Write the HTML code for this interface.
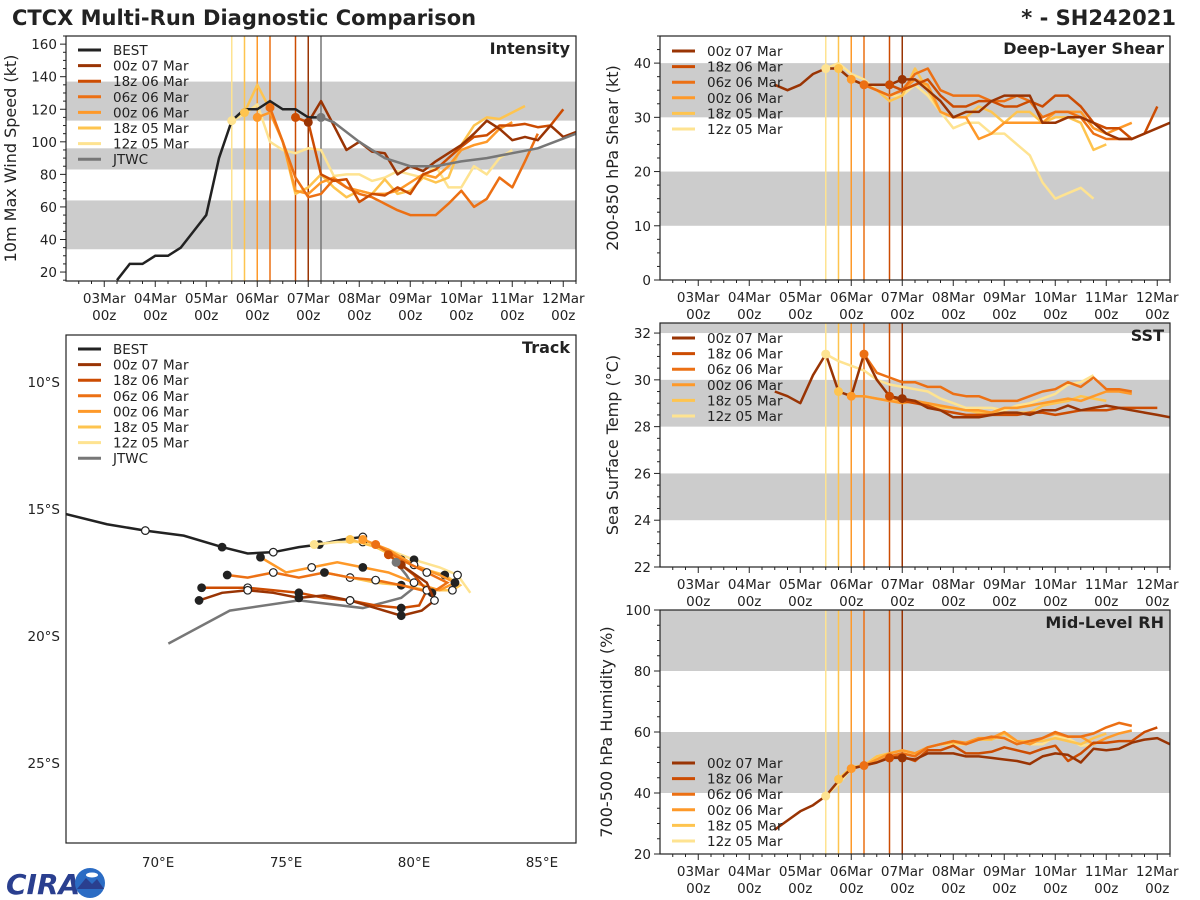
<!DOCTYPE html>
<html><head><meta charset="utf-8"><style>
html,body{margin:0;padding:0;background:#fff;}
svg{display:block;font-family:"DejaVu Sans","Liberation Sans",sans-serif;}
</style></head><body>
<svg id="fig" width="1200" height="900" viewBox="0 0 1200 900">
<rect width="1200" height="900" fill="#fff"/>
<text x="12" y="25" font-size="21" font-weight="bold" fill="#222">CTCX Multi-Run Diagnostic Comparison</text>
<text x="1176" y="25" font-size="21" font-weight="bold" fill="#222" text-anchor="end">* - SH242021</text>
<g>
<text x="6" y="894" font-size="28" font-weight="bold" fill="#2a3f8f" font-style="italic">CIRA</text>
<circle cx="90" cy="883" r="15" fill="#2b6cc4"/>
<path d="M77 889 L86 878 L92 884 L97 879 L104 889 Z" fill="#2a3f8f"/>
<ellipse cx="92" cy="875" rx="6" ry="2.5" fill="#fff"/>
</g>
</svg>
<script>
const runNames=['00z 07 Mar','18z 06 Mar','06z 06 Mar','00z 06 Mar','18z 05 Mar','12z 05 Mar'];
const runColors=['#993404','#cc4c02','#ec7014','#fe9929','#fec44f','#fee391'];
const runInit=[4.0,3.75,3.25,3.0,2.75,2.5];
const xTickLabels=['03Mar','04Mar','05Mar','06Mar','07Mar','08Mar','09Mar','10Mar','11Mar','12Mar'];
// intensity
const bestStart=0.25;
const bestVmax=[15,25,25,30,30,35,45,55,90,113,120,120,125,120,120,115,115];
const jtwcTimes=[4.25,4.5,5.0,5.5,6.0,6.5,7.0,7.5,8.0,8.5,9.0,9.25];
const jtwcVmax=[115,112,100,90,85,85,88,90,93,96,102,105];
const int00z07=[112,125,110,95,100,94,93,80,85,82,88,93,98,105,113,108,101,103,101,110,103,106];
const int18z06=[115,112,80,76,77,63,68,67,72,68,80,83,90,97,103,104,110,110,111,109,110,120];
const int06z06=[121,100,78,66,68,77,72,68,66,62,58,55,55,55,62,70,60,65,78,72,88,105];
const int00z06=[115,118,100,70,68,75,78,72,70,68,68,70,75,80,78,85,95,98,100,108,112];
const int18z05=[118,135,120,100,68,72,80,72,66,70,68,77,68,70,78,75,78,98,110,115,114,118,122];
const int12z05=[113,117,123,100,95,93,96,95,79,80,80,76,78,82,80,78,85,72,72,85,80,90,95];
// shear
const shr00z07Start=1.5;
const shr00z07=[36,35,36,38,39,39,37,36,36,36,37,37,35,33,30,31,31,33,34,34,34,29,29,30,30,29,27,26,26,27,28,29];
const shr18z06=[36,35,36,37,34,32,32,33,33,32,32,33,32,34,34,32,29,28,28,26,27,32];
const shr06z06=[36,35,34,35,38,39,35,34,34,34,33,33,34,33,30,31,31,30,27,26,26,26];
const shr00z06=[37,36,35,34,35,37,36,31,30,30,26,27,29,29,29,29,31,31,31,28,27,28,29];
const shr18z05=[39,37,36,35,33,34,39,35,31,30,30,32,31,29,31,31,29,30,30,29,24,25];
const shr12z05=[39,40,38,37,35,34,34,36,34,31,28,29,29,27,27,25,23,18,15,16,17,15];
// sst
const sst00z07=[29.5,29.3,29.0,30.2,31.1,29.5,29.3,31.1,30.0,29.3,29.2,29.1,28.8,28.7,28.4,28.4,28.4,28.5,28.6,28.6,28.5,28.7,28.7,28.9,28.7,28.8,28.9,28.8,28.7,28.6,28.5,28.4];
const sst18z06=[29.3,29.1,29.0,28.9,28.7,28.6,28.5,28.5,28.5,28.5,28.5,28.6,28.6,28.5,28.6,28.7,28.7,28.7,28.8,28.8,28.8,28.8];
const sst06z06=[31.1,30.3,30.1,29.9,29.9,29.7,29.7,29.4,29.3,29.3,29.1,29.1,29.1,29.3,29.5,29.6,29.9,29.7,30.1,29.6,29.6,29.5];
const sst00z06=[29.3,29.3,29.2,29.1,29.0,29.1,29.0,28.9,28.8,28.7,28.7,28.6,28.8,28.8,28.9,29.0,29.1,29.2,29.1,29.3,29.5,29.5,29.4];
const sst18z05=[29.5,29.3,29.3,29.2,29.1,29.1,29.0,29.0,28.8,28.8,28.7,28.6,28.6,28.6,28.6,28.6,28.9,29.0,29.1,29.3,29.2,29.1];
const sst12z05=[31.1,30.8,30.6,30.4,30.0,29.8,29.7,29.6,29.5,29.2,29.0,28.8,28.8,28.8,28.7,28.9,29.0,29.2,29.4,29.8,29.9,30.2];
// rh
const rh00z07=[28,31,34,36,39,44,48,49,50,51.5,51.5,51,53,53,53,52,52,51.5,51,50.5,49.5,52,53,52.5,50,54.5,54,54.5,56.5,57.5,58,56];
const rh18z06=[51.5,52,50.5,54,54,55.5,53,53,53.5,55,54,53,54.5,55.5,50.5,53,56.5,56.5,57,57,60,61.5];
const rh06z06=[49,50,52,53,52,55,56,57,56,57.5,58.5,58,56,57,58,60,58.5,58.5,59.5,61.5,63,62];
const rh00z06=[48,49,51,53,54,53,55,56,57,56.5,58,58,60,57,56,58,59.5,58.5,58.5,56,58,59.5,60.5];
const rh18z05=[44.5,48.5,49,52,53,54,53,55,56,56.5,56,57.5,57.5,59.5,57,57,57,58,57,56,58,59.5];
const rh12z05=[39,43,48,49,52,53,54,52,55,56,56,56,57.5,58,58,57,56,56,58.5,58,55.5,56];
// track (lon, lat)
const bestLon=[66.4,68.0,69.5,71.0,72.5,73.5,74.5,75.5,76.3,77.2,78.0];
const bestLat=[-15.2,-15.6,-15.85,-16.05,-16.5,-16.75,-16.7,-16.5,-16.4,-16.2,-16.1];
const trk00z07Lon=[79.5,80.5,80.8,80.3,79.5,78.5,77.5,76.5,75.5,74.5,73.5,72.5,71.6];
const trk00z07Lat=[-17.2,-17.9,-18.6,-19.0,-19.2,-18.9,-18.6,-18.4,-18.5,-18.3,-18.2,-18.3,-18.6];
const trk18z06Lon=[79.0,80.0,80.5,80.2,79.5,78.5,77.5,76.5,75.5,74.5,73.5,72.5,71.7];
const trk18z06Lat=[-16.8,-17.6,-18.2,-18.8,-18.9,-18.8,-18.6,-18.5,-18.3,-18.2,-18.1,-18.1,-18.1];
const trk06z06Lon=[78.5,79.5,80.5,81.3,80.7,79.5,78.5,77.5,76.5,75.5,74.5,73.5,72.7];
const trk06z06Lat=[-16.4,-17.0,-17.5,-17.9,-18.3,-18.0,-17.8,-17.7,-17.5,-17.7,-17.5,-17.7,-17.6];
const trk00z06Lon=[78.0,79.0,80.0,81.0,81.6,81.0,80.0,79.0,78.0,77.0,76.0,75.0,74.0];
const trk00z06Lat=[-16.2,-16.6,-17.2,-17.6,-17.9,-18.2,-17.9,-17.5,-17.3,-17.1,-17.3,-17.5,-16.9];
const trk18z05Lon=[77.5,78.5,79.5,80.5,81.2,81.8,81.5,80.5,79.5,78.5,77.5,76.5];
const trk18z05Lat=[-16.2,-16.5,-17.0,-17.4,-17.6,-18.0,-18.2,-18.2,-18.0,-17.9,-17.7,-17.5];
const trk12z05Lon=[76.1,77.0,78.0,79.0,80.0,81.0,81.7,82.2];
const trk12z05Lat=[-16.4,-16.3,-16.3,-16.6,-17.0,-17.3,-17.6,-18.3];
const jtwcLon=[79.3,79.7,80.0,79.5,78.0,75.5,72.8,70.4];
const jtwcLat=[-17.1,-17.6,-18.1,-18.5,-18.9,-18.6,-19.0,-20.3];

const NS='http://www.w3.org/2000/svg';
const svg=document.getElementById('fig');
function mk(tag,attrs,parent){const e=document.createElementNS(NS,tag);for(const k in attrs)e.setAttribute(k,attrs[k]);(parent||svg).appendChild(e);return e;}
function txt(s,attrs,parent){const e=mk('text',attrs,parent);e.textContent=s;return e;}
const T0=-0.75,T1=9.25;

function panel(o){
  const g=mk('g',{});
  
  
  const X=t=>o.x0+(t-T0)/(T1-T0)*(o.x1-o.x0);
  const Y=v=>o.y1-(v-o.ymin)/(o.ymax-o.ymin)*(o.y1-o.y0);
  const cp='clip-'+o.name;
  const cl=mk('clipPath',{id:cp},g);mk('rect',{x:o.x0,y:o.y0,width:o.x1-o.x0,height:o.y1-o.y0},cl);
  const inner=mk('g',{'clip-path':'url(#'+cp+')'},g);
  o.bands.forEach(b=>{const r=mk('rect',{x:o.x0,y:Y(Math.min(b[1],o.ymax)),width:o.x1-o.x0,height:Y(b[0])-Y(Math.min(b[1],o.ymax)),fill:'#cccccc'},inner);
    });
  runInit.forEach((t,i)=>{const l=mk('line',{x1:X(t),x2:X(t),y1:o.y0,y2:o.y1,stroke:runColors[i],'stroke-width':1.5},inner);
    });
  if(o.jtwcLine){const l=mk('line',{x1:X(4.25),x2:X(4.25),y1:o.y0,y2:o.y1,stroke:'#777','stroke-width':1.5},inner);
    }
  o.series.slice().reverse().forEach(s=>{
    const pts=s.vals.map((v,k)=>X(s.start+k*0.25).toFixed(1)+','+Y(v).toFixed(1)).join(' ');
    const p=mk('polyline',{points:pts,fill:'none',stroke:s.color,'stroke-width':2.5,'stroke-linejoin':'round'},inner);
    
  });
  if(o.extra)o.extra(inner,X,Y);
  o.series.slice().reverse().forEach(s=>{
    const k=Math.round((s.dotAt-s.start)/0.25);
    const c=mk('circle',{cx:X(s.dotAt),cy:Y(s.vals[k]),r:4.5,fill:s.color},inner);
    
  });
  const f=mk('rect',{x:o.x0,y:o.y0,width:o.x1-o.x0,height:o.y1-o.y0,fill:'none',stroke:'#222','stroke-width':1.2},g);
  
  for(let t=-0.5;t<=T1+0.001;t+=0.25){const maj=Math.abs(t-Math.round(t))<0.01;
    mk('line',{x1:X(t),x2:X(t),y1:o.y1,y2:o.y1+(maj?6:3),stroke:'#222','stroke-width':1},g);}
  xTickLabels.forEach((s,d)=>{
    const a=txt(s,{x:X(d),y:o.y1+22,'font-size':13.5,'text-anchor':'middle',fill:'#222'},g);
    
    const b=txt('00z',{x:X(d),y:o.y1+39,'font-size':13.5,'text-anchor':'middle',fill:'#222'},g);
    
  });
  const n0=Math.ceil(o.ymin/o.minor-1e-6),n1=Math.floor(o.ymax/o.minor+1e-6);
  for(let n=n0;n<=n1;n++){const rv=Math.round(n*o.minor*100)/100;
    const maj=Math.abs(rv/o.major-Math.round(rv/o.major))<1e-6;
    mk('line',{x1:o.x0,x2:o.x0-(maj?6:3),y1:Y(rv),y2:Y(rv),stroke:'#222','stroke-width':1},g);
    if(maj){const l=txt(String(rv),{x:o.x0-9,y:Y(rv)+5,'font-size':13.5,'text-anchor':'end',fill:'#222'},g);
      }
  }
  const cy=(o.y0+o.y1)/2, lx=o.x0-o.ylx;
  const yl=txt(o.ylabel,{x:lx,y:cy,'font-size':16,'text-anchor':'middle',fill:'#222',transform:'rotate(-90 '+lx+' '+cy+')'},g);
  
  const tt=txt(o.title,{x:o.x1-6,y:o.y0+18,'font-size':16,'font-weight':'bold','text-anchor':'end',fill:'#222'},g);
  
  legend(g,o.legX,o.legY,o.legItems);
}
function legend(g,x,y,items){
  const lg=mk('g',{},g);
  
  items.forEach((it,i)=>{const yy=y+i*15.6;
    mk('line',{x1:x,x2:x+23,y1:yy,y2:yy,stroke:it[1],'stroke-width':3},lg);
    const e=txt(it[0],{x:x+35,y:yy+5,'font-size':13.5,fill:'#222'},lg);
    
  });
}
const runItems=runNames.map((n,i)=>[n,runColors[i]]);
function runs(arrs,histStart){return arrs.map((a,i)=>({id:runNames[i].replace(/ /g,'-'),color:runColors[i],vals:a,start:(i===0&&histStart!==undefined)?histStart:runInit[i],dotAt:runInit[i]}));}

panel({name:'intensity-panel',x0:66,x1:576,y0:36,y1:281,ymin:14.5,ymax:165,major:20,minor:5,ylx:50,
  bands:[[34,64],[83,96],[113,137]],jtwcLine:true,ylabel:'10m Max Wind Speed (kt)',title:'Intensity',
  series:runs([int00z07,int18z06,int06z06,int00z06,int18z05,int12z05]),
  extra:(g,X,Y)=>{
    const jp=jtwcTimes.map((t,k)=>X(t)+','+Y(jtwcVmax[k])).join(' ');
    const j=mk('polyline',{points:jp,fill:'none',stroke:'#777','stroke-width':2.5},g);
    
    const bp=bestVmax.map((v,k)=>X(bestStart+k*0.25)+','+Y(v)).join(' ');
    const b=mk('polyline',{points:bp,fill:'none',stroke:'#222','stroke-width':2.5},g);
    
    const c=mk('circle',{cx:X(jtwcTimes[0]),cy:Y(jtwcVmax[0]),r:4.5,fill:'#777'},g);
    
  },
  legX:78,legY:50,legItems:[['BEST','#222']].concat(runItems,[['JTWC','#777']])});
panel({name:'shear-panel',x0:660,x1:1170,y0:36,y1:280,ymin:0,ymax:45,major:10,minor:2.5,ylx:42,
  bands:[[10,20],[30,40]],ylabel:'200-850 hPa Shear (kt)',title:'Deep-Layer Shear',
  series:runs([shr00z07,shr18z06,shr06z06,shr00z06,shr18z05,shr12z05],shr00z07Start),
  legX:672,legY:51,legItems:runItems});
panel({name:'sst-panel',x0:660,x1:1170,y0:323,y1:567,ymin:22,ymax:32.43,major:2,minor:0.5,ylx:42,
  bands:[[24,26],[28,30],[32,34]],ylabel:'Sea Surface Temp (°C)',title:'SST',
  series:runs([sst00z07,sst18z06,sst06z06,sst00z06,sst18z05,sst12z05],1.5),
  legX:672,legY:338,legItems:runItems});
panel({name:'rh-panel',x0:660,x1:1170,y0:610,y1:854,ymin:20,ymax:100,major:20,minor:5,ylx:48,
  bands:[[40,60],[80,100]],ylabel:'700-500 hPa Humidity (%)',title:'Mid-Level RH',
  series:runs([rh00z07,rh18z06,rh06z06,rh00z06,rh18z05,rh12z05],1.5),
  legX:672,legY:763,legItems:runItems});

(function(){
  const x0=66,x1=576,y0=335,y1=843;
  const g=mk('g',{});
  
  
  const LX=l=>x0+(l-66.4)/(86.33-66.4)*(x1-x0);
  const LY=l=>y0+(-8.15-l)/(28.15-8.15)*(y1-y0);
  const cl=mk('clipPath',{id:'clip-track'},g);mk('rect',{x:x0,y:y0,width:x1-x0,height:y1-y0},cl);
  const inner=mk('g',{'clip-path':'url(#clip-track)'},g);
  function path(lon,lat,color,name,markers){
    const p=mk('polyline',{points:lon.map((v,k)=>LX(v)+','+LY(lat[k])).join(' '),fill:'none',stroke:color,'stroke-width':2.5},inner);
    
    if(markers)lon.forEach((v,k)=>{if(k===0)return;if(k%2)return;
      const c=mk('circle',{cx:LX(v),cy:LY(lat[k]),r:3.8,fill:(k%4===0)?'#222':'#fff',stroke:'#222','stroke-width':1.2},inner);
      });
  }
  path(bestLon,bestLat,'#222','track-best',true);
  path(jtwcLon,jtwcLat,'#777','track-jtwc',false);
  const tr=[[trk12z05Lon,trk12z05Lat],[trk18z05Lon,trk18z05Lat],[trk00z06Lon,trk00z06Lat],[trk06z06Lon,trk06z06Lat],[trk18z06Lon,trk18z06Lat],[trk00z07Lon,trk00z07Lat]];
  tr.forEach((t,j)=>{const i=5-j;path(t[0],t[1],runColors[i],'track-'+runNames[i].replace(/ /g,'-'),true);
    const c=mk('circle',{cx:LX(t[0][0]),cy:LY(t[1][0]),r:4.5,fill:runColors[i]},inner);
    });
  const jc=mk('circle',{cx:LX(jtwcLon[0]),cy:LY(jtwcLat[0]),r:4.5,fill:'#777'},inner);
  
  const f=mk('rect',{x:x0,y:y0,width:x1-x0,height:y1-y0,fill:'none',stroke:'#222','stroke-width':1.2},g);
  
  [70,75,80,85].forEach(l=>{const e=txt(l+'°E',{x:LX(l),y:y1+24,'font-size':13.5,'text-anchor':'middle',fill:'#222'},g);
    });
  [10,15,20,25].forEach(l=>{const e=txt(l+'°S',{x:x0-6,y:LY(-l)+5,'font-size':13.5,'text-anchor':'end',fill:'#222'},g);
    });
  const tt=txt('Track',{x:x1-6,y:y0+18,'font-size':16,'font-weight':'bold','text-anchor':'end',fill:'#222'},g);
  
  legend(g,78,349,[['BEST','#222']].concat(runItems,[['JTWC','#777']]));
})();
</script>
</body></html>
